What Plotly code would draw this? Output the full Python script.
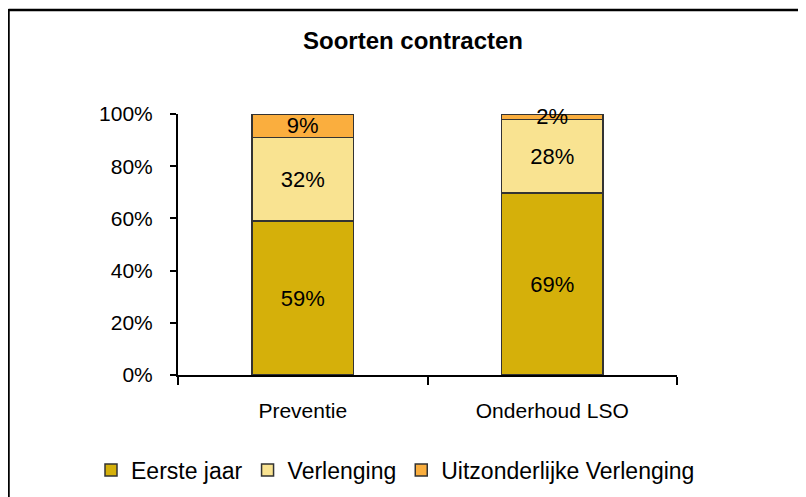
import plotly.graph_objects as go

categories = ["Preventie", "Onderhoud LSO"]
series_names = ["Eerste jaar", "Verlenging", "Uitzonderlijke Verlenging"]
eerste_jaar = [59, 69]
verlenging = [32, 28]
uitzonderlijk = [9, 2]
colors = ["#D5B00A", "#F9E391", "#FAAE3E"]
y_ticks = [0, 20, 40, 60, 80, 100]
y_tick_labels = ["0%", "20%", "40%", "60%", "80%", "100%"]

OFF = 8  # page body margin
W, H = 806 - OFF, 497 - OFF
L, T = 178 - OFF, 114 - OFF
PW, PH = 677 - 178, 375 - 114
R, B = W - L - PW, H - T - PH

def px_x(p):
    return (p - OFF - L) / PW

def px_y(p):
    return (T + PH - (p - OFF)) / PH

FONT = "Liberation Sans, Arial, sans-serif"

fig = go.Figure()
for name, vals, col in zip(series_names, [eerste_jaar, verlenging, uitzonderlijk], colors):
    fig.add_trace(go.Bar(
        name=name, x=categories, y=vals,
        marker=dict(color=col, line=dict(color="#333333", width=1.5)),
        text=[f"{v}%" for v in vals], textposition="inside",
        insidetextanchor="middle", textangle=0, cliponaxis=False,
        textfont=dict(family=FONT, size=22, color="black"),
        hoverinfo="skip",
    ))

fig.update_layout(
    width=W, height=H,
    margin=dict(l=L, r=R, t=T, b=B, autoexpand=False),
    barmode="stack", barnorm="percent", bargap=0.595,
    paper_bgcolor="white", plot_bgcolor="white",
    uniformtext=dict(minsize=22, mode="show"),
    title=dict(text="<b>Soorten contracten</b>", x=(413 - OFF) / W, xref="container", xanchor="center",
               y=1 - (41 - OFF) / H, yref="container", yanchor="middle",
               font=dict(family=FONT, size=24, color="black")),
    font=dict(family=FONT, color="black"),
    legend=dict(orientation="h", x=px_x(91), xanchor="left", y=px_y(470), yanchor="middle",
                font=dict(family=FONT, size=23, color="black"), traceorder="normal",
                itemwidth=30, bgcolor="rgba(0,0,0,0)"),
    showlegend=True,
)
fig.update_xaxes(showgrid=False, showline=True, linecolor="black", linewidth=2, automargin=False,
                 ticks="outside", tickson="boundaries", ticklen=8, tickwidth=2, tickcolor="black",
                 tickfont=dict(family=FONT, size=21, color="black"), ticklabelstandoff=16)
fig.update_yaxes(range=[0, 100], tickvals=y_ticks, ticktext=y_tick_labels, showgrid=False,
                 showline=True, linecolor="black", linewidth=2, automargin=False,
                 ticks="outside", ticklen=6, tickwidth=2, tickcolor="black",
                 tickfont=dict(family=FONT, size=21, color="black"), ticklabelstandoff=13,
                 zeroline=False)

# outer chart-area frame (top and left edges visible)
fig.add_shape(type="line", xref="paper", yref="paper", x0=px_x(8.5), x1=px_x(830),
              y0=px_y(10), y1=px_y(10), line=dict(color="black", width=2.5))
fig.add_shape(type="line", xref="paper", yref="paper", x0=px_x(8.5), x1=px_x(8.5),
              y0=px_y(9), y1=px_y(520), line=dict(color="black", width=2.5))

fig.write_html("out.html")
